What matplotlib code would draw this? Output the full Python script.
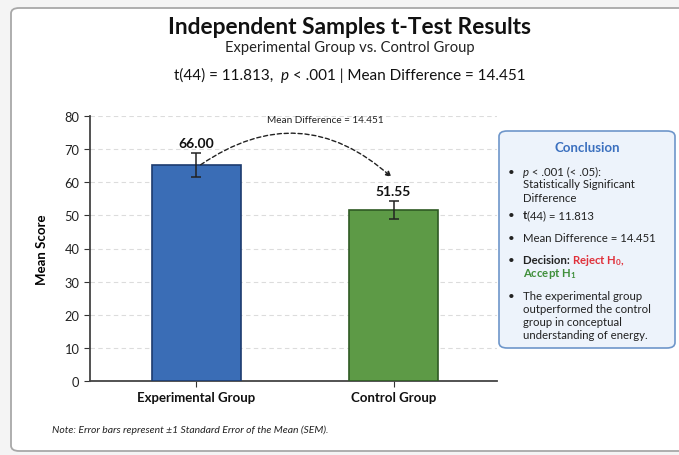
import matplotlib
matplotlib.use("Agg")
import matplotlib.pyplot as plt
from matplotlib.patches import FancyBboxPatch, FancyArrowPatch

plt.rcParams['font.family'] = ['Lato', 'DejaVu Sans']
plt.rcParams['mathtext.fontset'] = 'custom'
plt.rcParams['mathtext.rm'] = 'Lato'
plt.rcParams['mathtext.it'] = 'Lato:italic'
plt.rcParams['mathtext.bf'] = 'Lato:bold'

# data
groups = ['Experimental Group', 'Control Group']
means = [65.2, 51.6]
sems = [3.6, 2.8]
value_labels = ['66.00', '51.55']
mean_diff = '14.451'
t_stat = 't(44) = 11.813'
bar_colors = ['#3a6db6', '#5d9a46']
edge_colors = ['#1d3b6e', '#2f5a24']

W, H = 679, 456
fig = plt.figure(figsize=(W / 100, H / 100), dpi=100)
fig.patch.set_facecolor('#f4f4f4')

# outer card (behind the axes)
card = FancyBboxPatch((11 / W, 4 / H), 720 / W, 443 / H, boxstyle='round,pad=0,rounding_size=0.012',
                      transform=fig.transFigure, facecolor='white', edgecolor='#a8a8a8', lw=1.3,
                      zorder=-5)
fig.patches.append(card)


def px(x, y):
    return x / W, 1 - y / H


def rich(x, y, parts, ha='left', size=9, **kw):
    # draw text pieces one after another on a line
    r = fig.canvas.get_renderer()
    objs = []
    for s, props in parts:
        t = fig.text(0, 0, s, size=size, va='center', **props, **kw)
        objs.append(t)
    widths = [t.get_window_extent(r).width / W for t in objs]
    x0 = x / W
    if ha == 'center':
        x0 -= sum(widths) / 2
    for t, w in zip(objs, widths):
        t.set_position((x0, 1 - y / H))
        x0 += w


# header
fig.text(*px(350, 28), 'Independent Samples t-Test Results', ha='center', va='center',
         size=16.4, weight='bold', color='#111111')
fig.text(*px(350, 48), 'Experimental Group vs. Control Group', ha='center', va='center',
         size=10.6, color='#222222')
rich(350, 76, [(t_stat + ',  ', {}), ('p', {'style': 'italic'}),
               (' < .001 | Mean Difference = ' + mean_diff, {})],
     ha='center', size=11, color='#111111')

# axes
ax = fig.add_axes([90 / W, 1 - 382 / H, 407 / W, 265 / H])
x = [0, 1]
ax.bar(x, means, width=0.45, color=bar_colors, edgecolor=edge_colors, lw=1.2, zorder=3)
ax.errorbar(x, means, yerr=sems, fmt='none',
            ecolor='#222222', elinewidth=1.1, capsize=3.5, capthick=1.1, zorder=4)
for xi, m, s, lab in zip(x, means, sems, value_labels):
    ax.text(xi, m + s + 3.0, lab, ha='center', va='center', size=10,
            weight='bold', color='#111111', zorder=5)

ax.set_xlim(-0.54, 1.525)
ax.set_ylim(0, 80)
ax.set_yticks(range(0, 81, 10))
ax.set_xticks(x)
ax.set_xticklabels(groups, weight='bold', size=9.5)
ax.tick_params(axis='y', labelsize=9.3, length=4, color='#333333', labelcolor='#222222')
ax.tick_params(axis='x', length=4, color='#333333', labelcolor='#111111', pad=3)
ax.set_ylabel('Mean Score', weight='bold', size=9.5, labelpad=12)
ax.grid(axis='y', ls=(0, (4, 3)), color='#dcdcdc', lw=0.8, zorder=0)
for sp in ['top', 'right']:
    ax.spines[sp].set_visible(False)
for sp in ['left', 'bottom']:
    ax.spines[sp].set_color('#444444')
    ax.spines[sp].set_linewidth(1.3)

# mean difference arrow
arr = FancyArrowPatch((0.01, 64.8), (1.0, 61.0), connectionstyle='arc3,rad=-0.4',
                      arrowstyle='-|>', mutation_scale=8, ls=(0, (3, 2)), lw=1.0,
                      color='#222222', zorder=6)
ax.add_patch(arr)
ax.text(0.655, 79, 'Mean Difference = ' + mean_diff, ha='center', va='center', size=7.2,
        color='#222222')

# conclusion box
box = FancyBboxPatch((499 / W, 1 - 349 / H), 176 / W, 217 / H,
                     boxstyle='round,pad=0,rounding_size=0.012', transform=fig.transFigure,
                     facecolor='#edf3fb', edgecolor='#6e96ca', lw=1.2)
fig.patches.append(box)
fig.text(*px(587, 148), 'Conclusion', ha='center', va='center', size=9.5, weight='bold',
         color='#3b70bf')

bs = 8.2
bx, tx = 511, 523
bullets_y = [172, 216, 239, 260, 296]
for by in bullets_y:
    fig.text(*px(bx, by), '\u2022', ha='center', va='center', size=bs, color='#222222')
rich(tx, 172, [('p', {'style': 'italic'}), (' < .001 (< .05):', {})], size=bs, color='#222222')
fig.text(*px(tx, 185), 'Statistically Significant', va='center', size=bs, color='#222222')
fig.text(*px(tx, 198), 'Difference', va='center', size=bs, color='#222222')
rich(tx, 216, [('t', {'weight': 'bold'}), ('(44) = 11.813', {})], size=bs, color='#222222')
fig.text(*px(tx, 239), 'Mean Difference = ' + mean_diff, va='center', size=bs, color='#222222')
rich(tx, 260, [('Decision: ', {'weight': 'bold', 'color': '#222222'}),
               (r'Reject H$_\mathbf{0}$,', {'weight': 'bold', 'color': '#e0303a'})], size=bs)
fig.text(*px(tx, 274), r'Accept H$_\mathbf{1}$', va='center', size=bs, weight='bold',
         color='#3f8f3a')
for i, line in enumerate(['The experimental group', 'outperformed the control',
                          'group in conceptual', 'understanding of energy.']):
    fig.text(*px(tx, 296 + 13.3 * i), line, va='center', size=bs, color='#222222')

# note
fig.text(*px(52, 430), 'Note: Error bars represent \u00b11 Standard Error of the Mean (SEM).',
         va='center', size=7.5, style='italic', color='#222222')

fig.savefig('out.png', dpi=100, facecolor=fig.get_facecolor())
